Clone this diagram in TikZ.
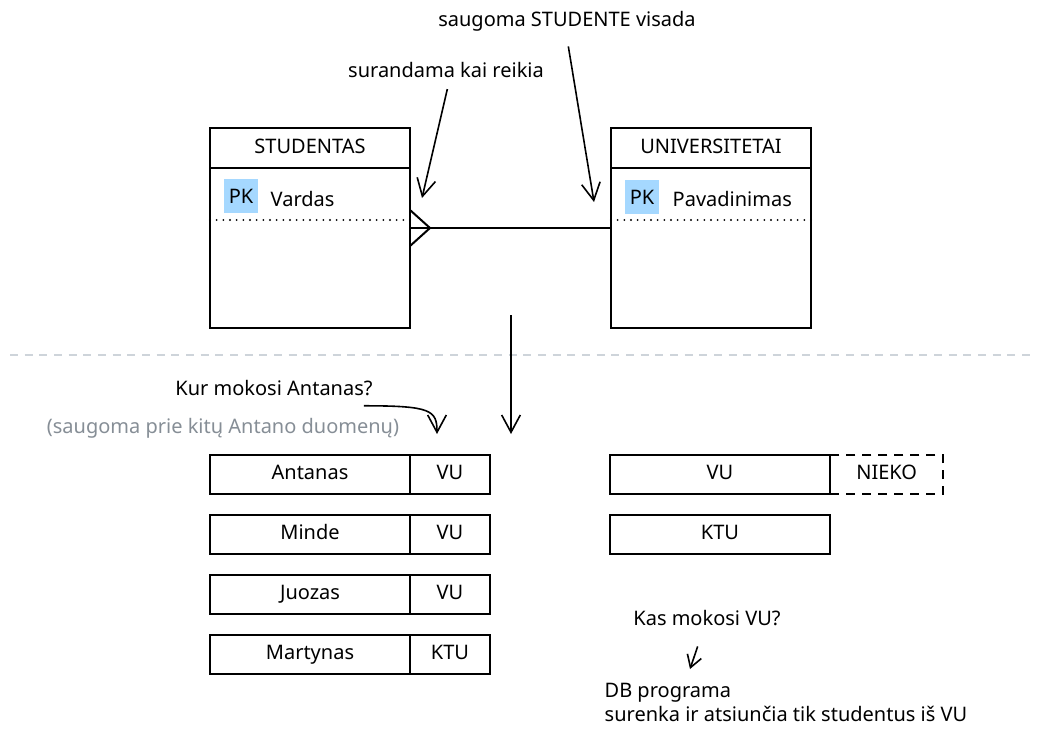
\documentclass[tikz,border=0pt]{standalone}
\usepackage{fontspec}
\setmainfont{Noto Sans}
\usetikzlibrary{arrows.meta,positioning}

\definecolor{pkblue}{HTML}{A5D8FF}
\definecolor{notegray}{HTML}{868E96}
\definecolor{rulegray}{HTML}{CED4DA}

\tikzset{
  headbox/.style={draw, line width=1.5pt, minimum width=150pt, minimum height=30pt, inner sep=0pt, outer sep=0pt, text height=11pt, text depth=3pt},
  bodybox/.style={draw, line width=1.5pt, minimum width=150pt, minimum height=120pt, inner sep=0pt, outer sep=0pt},
  pkbox/.style={fill=pkblue, minimum width=25pt, minimum height=25pt, inner sep=0pt},
  namecell/.style={draw, line width=1.5pt, minimum width=150pt, minimum height=29pt, inner sep=0pt, outer sep=0pt, text height=11pt, text depth=3pt},
  unicell/.style={namecell, minimum width=60pt},
  dotline/.style={line width=1.6pt, line cap=round, dash pattern=on 0pt off 5pt},
  arrowline/.style={line width=1.2pt, -{Straight Barb[length=13pt,width=14pt]}},
}

\begin{document}
\begin{tikzpicture}[x=0.75pt, y=-0.75pt, font=\fontsize{15}{18}\selectfont]
  \useasboundingbox (0,0) rectangle (1040,736);

  % Studentas table
  \node[headbox] (studhead) at (310,148) {STUDENTAS};
  \node[bodybox] (studbody) at (310,248) {};
  \node[pkbox] (studpk) at (241,196) {PK};
  \node[anchor=west] (studname) at (266,199) {Vardas};
  \draw[dotline] ([yshift=-39pt]studbody.north west) -- ([yshift=-39pt]studbody.north east);

  % Universitetai table
  \node[headbox] (unihead) at (711,148) {UNIVERSITETAI};
  \node[bodybox] (unibody) at (711,248) {};
  \node[pkbox] (unipk) at (642,197) {PK};
  \node[anchor=west] (uniname) at (668,199) {Pavadinimas};
  \draw[dotline] ([yshift=-39pt]unibody.north west) -- ([yshift=-39pt]unibody.north east);

  % many-to-one relation
  \coordinate (studrel) at ([yshift=-45pt]studbody.north east);
  \coordinate (unirel) at ([yshift=-45pt]unibody.north west);
  \draw[line width=1.5pt] (studrel) -- (unirel);
  \draw[line width=1.5pt] ([yshift=13.5pt]studrel) -- ([xshift=15pt]studrel) -- ([yshift=-13.5pt]studrel);

  % notes on top
  \node (findnote) at (446,70) {surandama kai reikia};
  \node (keepnote) at (567,21) {saugoma STUDENTE visada};
  \coordinate (findtip) at (422,198);
  \coordinate (keeptip) at (594,202);
  \draw[arrowline] ([xshift=1pt,yshift=-5pt]findnote.south) -- (findtip);
  \draw[arrowline] ([xshift=1pt,yshift=-8pt]keepnote.south) -- (keeptip);

  % separator
  \draw[rulegray, line width=1.5pt, dash pattern=on 6pt off 5pt] (10,355) -- (1030,355);
  \coordinate (splittop) at (511,315);
  \coordinate (splitend) at (511,434);
  \draw[arrowline] (splittop) -- (splitend);

  % students with their university
  \node (askwhere) at (274,388) {Kur mokosi Antanas?};
  \node[text=notegray] (storednote) at (223,428) {(saugoma prie kitų Antano duomenų)};
  \coordinate (wheretip) at (437,434);
  \draw[arrowline] ([xshift=-10pt,yshift=-4pt]askwhere.south east) .. controls +(50pt,0pt) and +(0pt,18pt) .. (wheretip);

  \node[namecell] (antanas) at (310,474.5) {Antanas};
  \node[unicell, right=0pt of antanas] (antanasuni) {VU};
  \node[namecell] (minde) at (310,534.5) {Minde};
  \node[unicell, right=0pt of minde] (mindeuni) {VU};
  \node[namecell] (juozas) at (310,594.5) {Juozas};
  \node[unicell, right=0pt of juozas] (juozasuni) {VU};
  \node[namecell] (martynas) at (310,654.5) {Martynas};
  \node[unicell, right=0pt of martynas] (martynasuni) {KTU};

  % universities
  \node[namecell, minimum width=165pt] (vurow) at (720,474.5) {VU};
  \node[unicell, minimum width=85pt, dash pattern=on 7pt off 5pt, right=0pt of vurow] (nieko) {NIEKO};
  \node[namecell, minimum width=165pt] (kturow) at (720,534.5) {KTU};

  % query note
  \node (askvu) at (707,618) {Kas mokosi VU?};
  \coordinate (vutip) at (690,669);
  \draw[line width=1.2pt, -{Straight Barb[length=9pt,width=11pt]}] ([xshift=-7pt,yshift=-12pt]askvu.south) -- (vutip);
  \node[anchor=west, align=left] (dbnote) at (600,702) {DB programa\\surenka ir atsiunčia tik studentus iš VU};
\end{tikzpicture}
\end{document}
